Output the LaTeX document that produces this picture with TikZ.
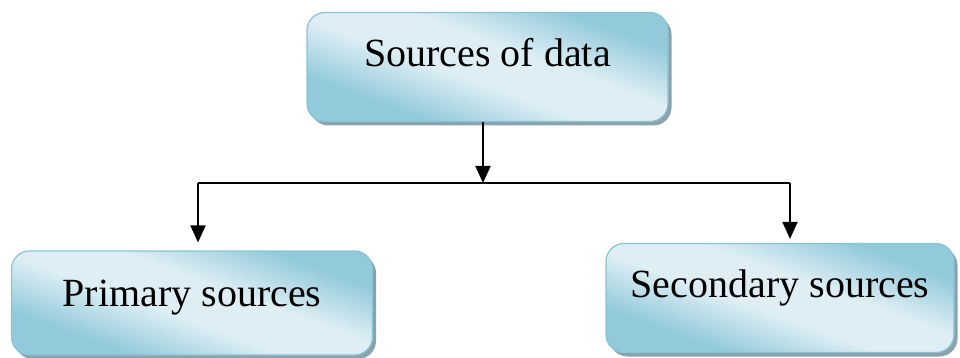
\documentclass[tikz,border=0pt]{standalone}
\usepackage{fontspec}
\setmainfont{Liberation Serif}
\usetikzlibrary{arrows.meta,shadows}
\definecolor{bdark}{HTML}{93CADB}
\definecolor{blight}{HTML}{DEEEF4}
\definecolor{bborder}{HTML}{88C4D6}
\definecolor{bshadow}{HTML}{8AA3AB}
\pgfdeclarehorizontalshading{boxband}{100bp}{color(0bp)=(bdark); color(30bp)=(bdark); color(45bp)=(blight); color(57bp)=(blight); color(72bp)=(bdark); color(100bp)=(bdark)}
\tikzset{
  srcbox/.style={rectangle, rounded corners=18pt, draw=bborder, line width=1.2pt,
    shading=boxband, shading angle=70, inner xsep=0pt, inner ysep=0pt,
    drop shadow={shadow xshift=3.5pt, shadow yshift=-4pt, fill=bshadow, opacity=1},
    font=\fontsize{40}{48}\selectfont, text=black},
  conn/.style={line width=2pt, black},
  arr/.style={conn, -{Triangle[width=15pt,length=17pt]}}
}
\begin{document}
\begin{tikzpicture}[x=1pt,y=-1pt]
\useasboundingbox (0,0) rectangle (960,358);
\node[srcbox, minimum width=361pt, text height=54pt, text depth=55pt] (top) at (487.5,67) {Sources of data};
\node[srcbox, minimum width=361pt, text height=55pt, text depth=49pt] (prim) at (192,303) {Primary sources};
\node[srcbox, minimum width=348pt, text height=54pt, text depth=55pt] (sec) at (780,298) {Secondary sources};
\coordinate (j) at (483,183);
\coordinate (lj) at (198,183);
\coordinate (rj) at (790,183);
\draw[arr] (top.south -| j) -- (j);
\draw[conn] (lj) -- (rj);
\draw[arr, shorten >=8pt] (lj) -- (lj |- prim.north);
\draw[arr, shorten >=4pt] (rj) -- (rj |- sec.north);
\end{tikzpicture}
\end{document}
